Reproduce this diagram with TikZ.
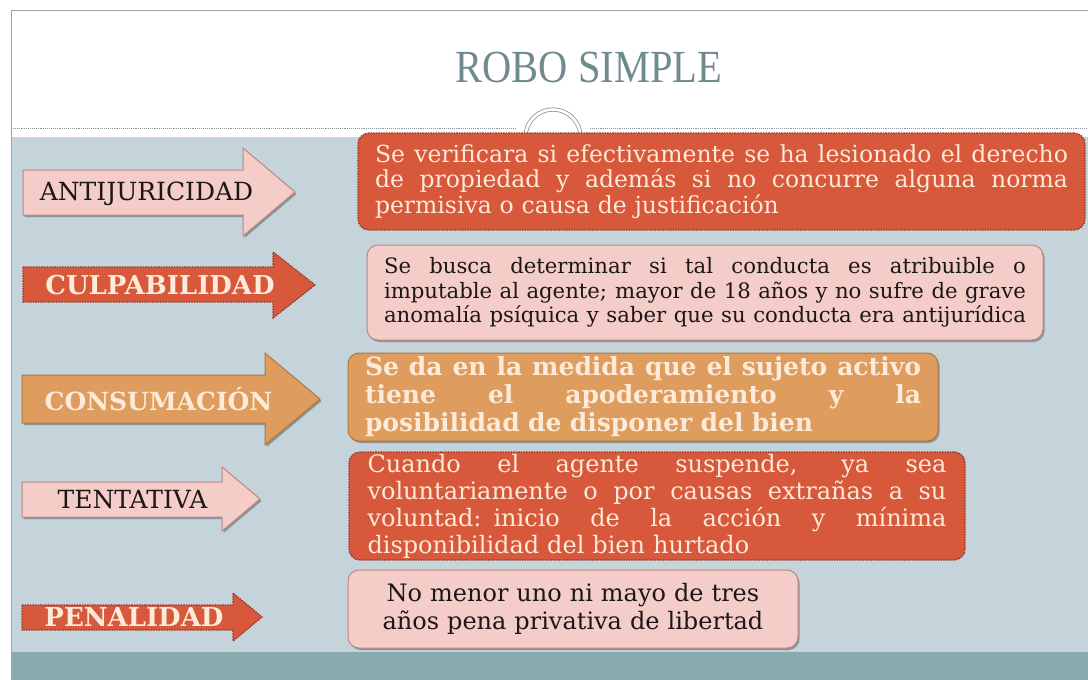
\documentclass[tikz,border=0pt]{standalone}
\usepackage{fontspec}
\setmainfont{DejaVu Serif}
\newfontfamily\titlefont{Liberation Serif}[FakeStretch=0.88]
\usetikzlibrary{shadows}
\definecolor{bgblue}{RGB}{197,211,219}
\definecolor{teal}{RGB}{136,170,172}
\definecolor{redf}{RGB}{216,88,60}
\definecolor{redd}{RGB}{150,58,42}
\definecolor{pinkf}{RGB}{244,205,201}
\definecolor{pinkd}{RGB}{186,136,131}
\definecolor{orangef}{RGB}{222,156,94}
\definecolor{oranged}{RGB}{178,120,62}
\definecolor{cream}{RGB}{253,234,216}
\definecolor{titlec}{RGB}{111,139,142}
\definecolor{ringc}{RGB}{140,150,152}
\definecolor{framec}{RGB}{150,165,168}
\definecolor{darktext}{RGB}{28,22,22}
\newcommand\jline[2]{\leavevmode\hbox to #1{\spaceskip=0.3em plus 1fil\relax #2}}
\tikzset{
  shad/.style={drop shadow={shadow xshift=1.5pt,shadow yshift=-2pt,opacity=0.3,fill=black}},
  pinkarrow/.style={fill=pinkf,draw=pinkd,line width=1pt,shad},
  redarrow/.style={fill=redf,draw=redd,line width=1.3pt,dash pattern=on 1.6pt off 1pt},
  orangearrow/.style={fill=orangef,draw=oranged,line width=1pt,shad},
  boxbase/.style={rectangle,rounded corners=11pt,inner ysep=0pt,align=left},
  redbox/.style={boxbase,fill=redf,draw=redd,line width=1.3pt,dash pattern=on 1.6pt off 1pt,text=cream},
  pinkbox/.style={boxbase,fill=pinkf,draw=pinkd,line width=1pt,shad,text=darktext},
  orangebox/.style={boxbase,fill=orangef,draw=oranged,line width=1pt,shad,text=cream},
  lablight/.style={inner sep=0pt,text=darktext,font=\fontsize{25}{28}\selectfont},
  labbold/.style={inner sep=0pt,text=cream,font=\bfseries\fontsize{26}{29}\selectfont},
}
\begin{document}
\begin{tikzpicture}[x=1pt,y=-1pt]
\useasboundingbox (0,0) rectangle (1088,680);
\fill[white] (0,0) rectangle (1088,680);
% slide areas
\fill[bgblue] (11,137) rectangle (1088,652);
\fill[teal] (11,652) rectangle (1088,680);
\draw[framec,line width=1pt] (1088,10) -- (11,10) -- (11,680);
% dashed separator and ring
\draw[ringc,line width=0.9pt,densely dotted] (11,128) -- (515,128);
\draw[ringc,line width=0.9pt,densely dotted] (590,128) -- (1088,128);
\draw[ringc,line width=0.8pt,double=white,double distance=2.6pt] (553,137) circle (27.5);
% title
\node[inner sep=0pt,text=titlec,font=\titlefont\fontsize{46}{50}\selectfont] (title) at (589,67) {ROBO SIMPLE};
% arrows
\draw[pinkarrow] (23,170) -- (243,170) -- (243,148) -- (295,192) -- (243,236) -- (243,215) -- (23,215) -- cycle;
\draw[redarrow] (23,267) -- (273,267) -- (273,252) -- (315,285) -- (273,318) -- (273,302) -- (23,302) -- cycle;
\draw[orangearrow] (22,375) -- (265,375) -- (265,353) -- (320,399) -- (265,445) -- (265,423) -- (22,423) -- cycle;
\draw[pinkarrow] (22,482) -- (222,482) -- (222,467) -- (260,499) -- (222,531) -- (222,517) -- (22,517) -- cycle;
\draw[redarrow] (22,605) -- (233,605) -- (233,593) -- (262,617) -- (233,641) -- (233,630) -- (22,630) -- cycle;
\node[lablight] (antij) at (146.5,194) {ANTIJURICIDAD};
\node[labbold] (culpa) at (160,285) {CULPABILIDAD};
\node[labbold,font=\bfseries\fontsize{25}{28}\selectfont] (consu) at (158.5,399) {CONSUMACIÓN};
\node[labbold] (penal) at (134,617) {PENALIDAD};
\node[lablight] (tenta) at (132.5,500) {TENTATIVA};
% boxes
\node[redbox,text width=693pt,inner xsep=17pt,minimum width=727pt,minimum height=97pt,
      font=\fontsize{23.5}{25.5}\selectfont] (b1) at (721.5,181.5)
  {\jline{693pt}{Se verificara si efectivamente se ha lesionado el derecho}\\
   \jline{693pt}{de propiedad y además si no concurre alguna norma}\\
   permisiva o causa de justificación};
\node[pinkbox,text width=642pt,inner xsep=17pt,minimum width=676pt,minimum height=95pt,
      font=\fontsize{21.2}{24.5}\selectfont] (b2) at (705,292.5)
  {\jline{642pt}{Se busca determinar si tal conducta es atribuible o}\\
   \jline{642pt}{imputable al agente; mayor de 18 años y no sufre de grave}\\
   \jline{642pt}{anomalía psíquica y saber que su conducta era antijurídica}};
\node[orangebox,text width=556pt,inner xsep=17pt,minimum width=590pt,minimum height=88pt,
      font=\bfseries\fontsize{25}{28}\selectfont] (b3) at (643,397)
  {\jline{556pt}{Se da en la medida que el sujeto activo}\\
   \jline{556pt}{tiene el apoderamiento y la}\\
   posibilidad de disponer del bien};
\node[redbox,text width=579pt,inner xsep=18.5pt,minimum width=616pt,minimum height=108pt,
      font=\fontsize{24}{27}\selectfont] (b4) at (657,506)
  {\jline{579pt}{Cuando el agente suspende, ya sea}\\
   \jline{579pt}{voluntariamente o por causas extrañas a su}\\
   \jline{579pt}{voluntad: inicio de la acción y mínima}\\
   disponibilidad del bien hurtado};
\node[pinkbox,align=center,text width=420pt,inner xsep=15pt,minimum width=450pt,minimum height=78pt,
      font=\fontsize{24}{28}\selectfont] (b5) at (573,609)
  {No menor uno ni mayo de tres\\ años pena privativa de libertad};
\end{tikzpicture}
\end{document}
